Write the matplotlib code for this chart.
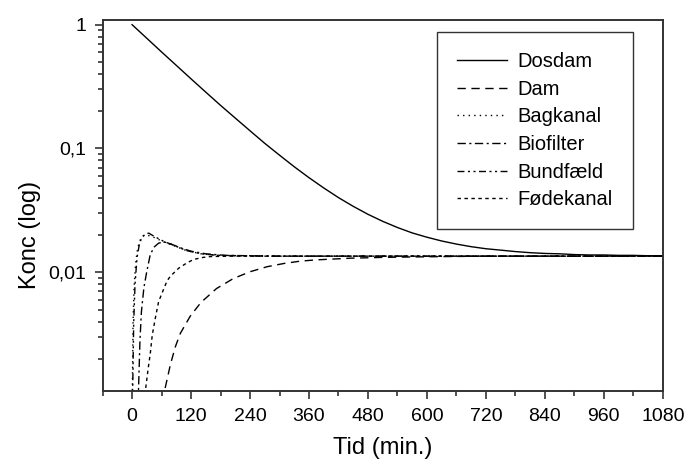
import matplotlib
matplotlib.use("Agg")
import matplotlib.pyplot as plt
from matplotlib.ticker import FixedLocator, LogLocator, FuncFormatter, NullFormatter

plt.rcParams['font.family'] = ['Liberation Sans', 'DejaVu Sans']

# ---- data ----
t_dosdam = [0, 30, 60, 90, 120, 150, 180, 210, 240, 270, 300, 330, 360, 390, 420,
            450, 480, 510, 540, 570, 600, 630, 660, 690, 720, 750, 780, 810, 840,
            870, 900, 930, 960, 990, 1020, 1050, 1080]
c_dosdam = [1.0, 0.776, 0.602, 0.469, 0.365, 0.285, 0.223, 0.176, 0.139, 0.110,
            0.0883, 0.0712, 0.0581, 0.0480, 0.0401, 0.0341, 0.0294, 0.0258, 0.0230,
            0.0208, 0.0192, 0.0179, 0.0169, 0.0161, 0.0155, 0.0151, 0.0147, 0.0144,
            0.0142, 0.0141, 0.0139, 0.0138, 0.0138, 0.0137, 0.0137, 0.0136, 0.0136]

t_dam = [64, 66, 78, 88, 98, 118, 140, 172, 206, 240, 275, 310, 342, 375, 410, 445,
         480, 510, 570, 640, 720, 840, 960, 1080]
c_dam = [0.0009, 0.0011, 0.0018, 0.0025, 0.0032, 0.0044, 0.0057, 0.0074, 0.0089,
         0.0101, 0.0111, 0.0118, 0.0123, 0.0126, 0.0128, 0.0130, 0.0131, 0.0132,
         0.0133, 0.0134, 0.0135, 0.0135, 0.0135, 0.0135]

t_bagkanal = [0, 0.5, 2, 4, 7, 10, 14, 18, 22, 28, 36, 48, 64, 85, 110, 140, 175,
              220, 300, 480, 720, 1080]
c_bagkanal = [0.0006, 0.0011, 0.0040, 0.0075, 0.0115, 0.0145, 0.0172, 0.0188,
              0.0196, 0.0200, 0.0197, 0.0189, 0.0176, 0.0164, 0.0150, 0.0141,
              0.0137, 0.0136, 0.0135, 0.0135, 0.0135, 0.0135]

t_biofilter = [12, 13, 16, 19, 24, 30, 37, 45, 54, 65, 78, 98, 120, 150, 190, 240,
               300, 480, 720, 1080]
c_biofilter = [0.0009, 0.0011, 0.0028, 0.0048, 0.0075, 0.0102, 0.0139, 0.0160,
               0.0172, 0.0176, 0.0170, 0.0158, 0.0148, 0.0141, 0.0137, 0.0136,
               0.0135, 0.0135, 0.0135, 0.0135]

t_bundfaeld = [1, 1.2, 3.2, 6, 10, 15, 20, 28, 34, 45, 64, 85, 110, 140, 175, 220,
               300, 480, 720, 1080]
c_bundfaeld = [0.0009, 0.0011, 0.0038, 0.0080, 0.0131, 0.0170, 0.0192, 0.0205,
               0.0207, 0.0195, 0.0178, 0.0165, 0.0150, 0.0141, 0.0137, 0.0136,
               0.0135, 0.0135, 0.0135, 0.0135]

t_fodekanal = [26, 27, 33, 37, 41, 47, 54, 61, 71, 78, 95, 110, 125, 145, 160, 200,
               300, 480, 720, 1080]
c_fodekanal = [0.0009, 0.0011, 0.0017, 0.0022, 0.0031, 0.0042, 0.0058, 0.0068,
               0.0085, 0.0093, 0.0108, 0.0118, 0.0127, 0.0132, 0.0134, 0.0135,
               0.0135, 0.0135, 0.0135, 0.0135]

labels = ["Dosdam", "Dam", "Bagkanal", "Biofilter", "Bundfæld", "Fødekanal"]
x_ticks = [0, 120, 240, 360, 480, 600, 720, 840, 960, 1080]
y_ticks = [0.01, 0.1, 1]
y_ticklabels = ["0,01", "0,1", "1"]

# ---- figure ----
fig = plt.figure(figsize=(6.84, 4.66), dpi=100)
ax = fig.add_axes([0.150, 0.161, 0.819, 0.796])

styles = [
    '-',
    (0, (6, 4)),
    (0, (1, 3)),
    (0, (6, 2.5, 1.5, 2.5)),
    (0, (5, 2.5, 1.5, 2.5, 1.5, 2.5)),
    (0, (2.5, 2.5)),
]
series = [(t_dosdam, c_dosdam), (t_dam, c_dam), (t_bagkanal, c_bagkanal),
          (t_biofilter, c_biofilter), (t_bundfaeld, c_bundfaeld),
          (t_fodekanal, c_fodekanal)]
for (t, c), ls, lab in zip(series, styles, labels):
    ax.plot(t, c, color='black', linestyle=ls, linewidth=1.0, label=lab)

ax.set_yscale('log')
ax.set_xlim(-60, 1080)
ax.set_ylim(0.0011, 1.09)

ax.xaxis.set_major_locator(FixedLocator(x_ticks))
ax.xaxis.set_minor_locator(FixedLocator([-60] + [x + 60 for x in x_ticks[:-1]]))
ax.yaxis.set_major_locator(FixedLocator(y_ticks))
ax.yaxis.set_major_formatter(FuncFormatter(
    lambda v, p: y_ticklabels[y_ticks.index(v)] if v in y_ticks else ""))
ax.yaxis.set_minor_locator(LogLocator(base=10, subs=range(2, 10)))
ax.yaxis.set_minor_formatter(NullFormatter())

spine_col = '#333333'
for s in ax.spines.values():
    s.set_linewidth(1.4)
    s.set_color(spine_col)
ax.tick_params(which='both', direction='out', top=False, right=False,
               color=spine_col, width=1.2)
ax.tick_params(which='major', length=6, labelsize=14, pad=6)
ax.tick_params(which='minor', length=3.5)

ax.set_xlabel("Tid (min.)", fontsize=17, labelpad=9)
ax.set_ylabel("Konc (log)", fontsize=17)
ax.yaxis.set_label_coords(-0.11, 0.42)

leg = ax.legend(loc='upper right', bbox_to_anchor=(0.946, 0.968), fontsize=14.5,
                frameon=True, fancybox=False, shadow=False, handlelength=2.5,
                handletextpad=0.5, labelspacing=0.43, borderpad=1.0,
                borderaxespad=0)
leg.get_frame().set_edgecolor('black')
leg.get_frame().set_linewidth(1.0)

fig.savefig("out.png", dpi=100)
